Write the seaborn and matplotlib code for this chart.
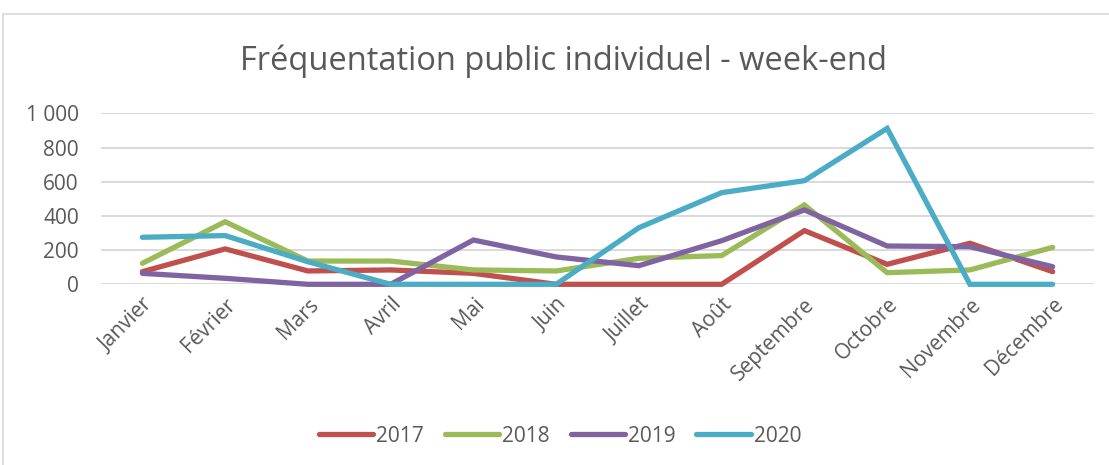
import matplotlib
matplotlib.use('Agg')

import pandas as pd
import matplotlib.pyplot as plt
import seaborn as sns
from matplotlib.patches import Rectangle

# Données
mois = ["Janvier", "Février", "Mars", "Avril", "Mai", "Juin", "Juillet",
        "Août", "Septembre", "Octobre", "Novembre", "Décembre"]
annees = ["2017", "2018", "2019", "2020"]
v2017 = [74, 207, 78, 84, 64, 0, 0, 0, 314, 117, 240, 74]
v2018 = [123, 366, 136, 136, 84, 78, 152, 168, 464, 68, 84, 216]
v2019 = [64, 35, 0, 0, 259, 160, 109, 255, 435, 224, 220, 103]
v2020 = [275, 285, 132, 0, 0, 0, 331, 536, 606, 912, 0, 0]
couleurs = ["#C0504D", "#9BBB59", "#8064A2", "#4BACC6"]

df = pd.DataFrame({
    "Mois": mois * 4,
    "Année": sum([[a] * 12 for a in annees], []),
    "Valeur": v2017 + v2018 + v2019 + v2020,
})

sns.set_theme(style="white")
plt.rcParams['font.family'] = ['Open Sans', 'DejaVu Sans']
gris = "#595959"

fig = plt.figure(figsize=(11.09, 4.65), dpi=100)
ax = fig.add_axes([0.0911, 0.3886, 0.8954, 0.3677])

# cadre du graphique
fig.patches.append(Rectangle((3 / 1109, -0.1), 1.2, 1 - 14 / 465 + 0.1,
                             transform=fig.transFigure, fill=False,
                             edgecolor="#D9D9D9", linewidth=1.2))

sns.lineplot(data=df, x="Mois", y="Valeur", hue="Année", palette=couleurs,
             linewidth=3.8, ax=ax, sort=False, legend=True)
for ln in ax.lines:
    ln.set_solid_capstyle("round")
    ln.set_solid_joinstyle("miter")
    ln.set_clip_on(False)

ax.set_xlim(-0.5, 11.5)
ax.set_ylim(0, 1000)
ax.set_yticks(range(0, 1001, 200))
ax.set_yticklabels([f"{v:,}".replace(",", " ") for v in range(0, 1001, 200)])
ax.grid(axis="y", color="#D9D9D9", linewidth=1.4)
ax.set_axisbelow(True)
for s in ax.spines.values():
    s.set_visible(False)
ax.set_xlabel("")
ax.set_ylabel("")
ax.tick_params(axis="y", colors=gris, labelsize=15, length=0, pad=16)
ax.tick_params(axis="x", colors=gris, labelsize=15, length=0, pad=7)
plt.setp(ax.get_xticklabels(), rotation=45, ha="right", rotation_mode="anchor")

fig.text(0.508, 0.868, "Fréquentation public individuel - week-end",
         ha="center", va="center", fontsize=23.5, color=gris)

handles, labels = ax.get_legend_handles_labels()
ax.legend(handles, labels, loc="center", bbox_to_anchor=(0.505, 0.062),
          bbox_transform=fig.transFigure, ncol=4, frameon=False,
          fontsize=15, labelcolor=gris, handlelength=2.6, handletextpad=0.15,
          columnspacing=1.0)
for h in ax.get_legend().get_lines():
    h.set_linewidth(3.8)
    h.set_solid_capstyle("round")

fig.savefig("out.png", dpi=100)
